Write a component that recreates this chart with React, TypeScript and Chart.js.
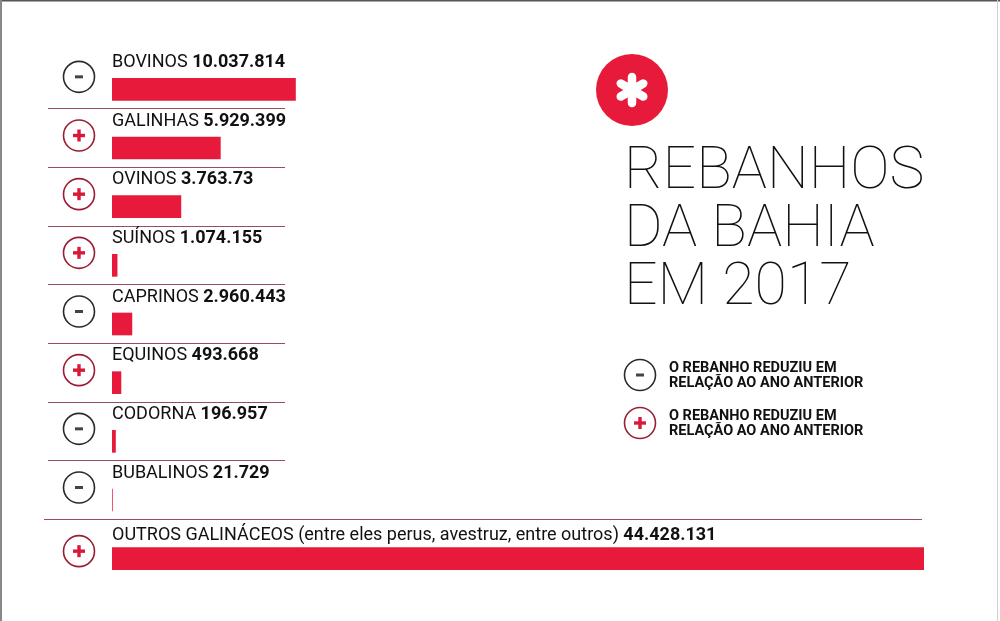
import { useEffect, useRef } from "react";
import { Chart, registerables } from "chart.js";

Chart.register(...registerables);

// ---- data ----
const categories = [
  "BOVINOS",
  "GALINHAS",
  "OVINOS",
  "SUÍNOS",
  "CAPRINOS",
  "EQUINOS",
  "CODORNA",
  "BUBALINOS",
  "OUTROS GALINÁCEOS (entre eles perus, avestruz, entre outros)",
];
const valueLabels = [
  "10.037.814",
  "5.929.399",
  "3.763.73",
  "1.074.155",
  "2.960.443",
  "493.668",
  "196.957",
  "21.729",
  "44.428.131",
];
// bar lengths as drawn in the picture (millions of heads)
const barValues = [10.04, 5.93, 3.77, 0.28, 1.09, 0.49, 0.19, 0.022, 44.43];
const trend = ["-", "+", "+", "+", "-", "+", "-", "-", "+"];
const titleLines = ["REBANHOS", "DA BAHIA", "EM 2017"];
const legendItems = [
  { kind: "-", lines: ["O REBANHO REDUZIU EM", "RELAÇÃO AO ANO ANTERIOR"] },
  { kind: "+", lines: ["O REBANHO REDUZIU EM", "RELAÇÃO AO ANO ANTERIOR"] },
];

const RED = "#e81a3b";
const DARKRED = "#9b1d34";
const SEP = "#9a4d5a";

function drawIcon(ctx: CanvasRenderingContext2D, x: number, y: number, kind: string) {
  ctx.save();
  ctx.beginPath();
  ctx.arc(x, y, 15.5, 0, Math.PI * 2);
  ctx.lineWidth = 1.6;
  ctx.strokeStyle = kind === "+" ? DARKRED : "#2a2a2a";
  ctx.stroke();
  if (kind === "+") {
    ctx.fillStyle = "#d8193a";
    ctx.fillRect(x - 6, y - 1.7, 12, 3.4);
    ctx.fillRect(x - 1.7, y - 6, 3.4, 12);
  } else {
    ctx.fillStyle = "#444";
    ctx.fillRect(x - 4, y - 1.5, 8, 3);
  }
  ctx.restore();
}

const infoPlugin = {
  id: "infoPlugin",
  beforeDraw(chart: any) {
    const ctx = chart.ctx as CanvasRenderingContext2D;
    ctx.save();
    ctx.fillStyle = "#ffffff";
    ctx.fillRect(0, 0, chart.width, chart.height);
    // frame
    ctx.fillStyle = "#555";
    ctx.fillRect(0, 0, chart.width, 1.5);
    ctx.fillStyle = "#888";
    ctx.fillRect(0, 0, 2, chart.height);
    ctx.fillStyle = "#d0d0d0";
    ctx.fillRect(chart.width - 3, 0, 1, chart.height);
    ctx.restore();
  },
  afterDatasetsDraw(chart: any) {
    const ctx = chart.ctx as CanvasRenderingContext2D;
    const yScale = chart.scales.y;
    const xLeft = chart.chartArea.left;
    const last = categories.length - 1;
    ctx.save();
    categories.forEach((name, i) => {
      const yc = yScale.getPixelForValue(i);
      const isLast = i === last;
      // label
      const ly = yc - (isLast ? 23 : 27);
      ctx.textBaseline = "middle";
      ctx.textAlign = "left";
      ctx.fillStyle = "#111";
      ctx.font = "18px Roboto";
      const txt = name + " ";
      ctx.fillText(txt, xLeft, ly);
      const w = ctx.measureText(txt).width;
      ctx.font = "bold 18px Roboto";
      ctx.fillText(valueLabels[i], xLeft + w, ly);
      // icon
      drawIcon(ctx, 79, yc - (isLast ? 7.5 : 12.5), trend[i]);
      // separator
      if (!isLast) {
        const sy = Math.round(yc + 19) + 0.5;
        ctx.beginPath();
        ctx.strokeStyle = SEP;
        ctx.lineWidth = 1;
        if (i === last - 1) {
          ctx.moveTo(44, sy);
          ctx.lineTo(922, sy);
        } else {
          ctx.moveTo(48, sy);
          ctx.lineTo(285, sy);
        }
        ctx.stroke();
      }
    });

    // red badge with asterisk
    const bx = 632, by = 90;
    ctx.beginPath();
    ctx.arc(bx, by, 36, 0, Math.PI * 2);
    ctx.fillStyle = RED;
    ctx.fill();
    ctx.strokeStyle = "#ffffff";
    ctx.lineWidth = 8.5;
    ctx.lineCap = "round";
    [90, 30, 150].forEach((deg) => {
      const a = (deg * Math.PI) / 180;
      ctx.beginPath();
      ctx.moveTo(bx - Math.cos(a) * 13, by - Math.sin(a) * 13);
      ctx.lineTo(bx + Math.cos(a) * 13, by + Math.sin(a) * 13);
      ctx.stroke();
    });

    // title
    ctx.fillStyle = "#111";
    ctx.textBaseline = "alphabetic";
    ctx.textAlign = "left";
    ctx.font = "100 59px Roboto";
    titleLines.forEach((t, k) => {
      ctx.fillText(t, 624, 188 + k * 58);
    });

    // legend
    legendItems.forEach((item, k) => {
      const iy = 375 + k * 48;
      drawIcon(ctx, 640, iy, item.kind);
      ctx.fillStyle = "#111";
      ctx.font = "bold 14.5px Roboto";
      ctx.textBaseline = "middle";
      item.lines.forEach((ln, j) => {
        ctx.fillText(ln, 669, iy - 7 + j * 15);
      });
    });
    ctx.restore();
  },
};

export default function App() {
  const ref = useRef<HTMLCanvasElement | null>(null);
  useEffect(() => {
    if (!ref.current) return;
    const chart = new Chart(ref.current, {
      type: "bar",
      data: {
        labels: categories,
        datasets: [
          {
            data: barValues,
            backgroundColor: RED,
            borderWidth: 0,
            barThickness: 22,
          },
        ],
      },
      options: {
        indexAxis: "y",
        responsive: false,
        animation: false,
        devicePixelRatio: 1,
        layout: { padding: { left: 112, right: 76, top: 60, bottom: 33 } },
        plugins: {
          legend: { display: false },
          tooltip: { enabled: false },
          title: { display: false },
        },
        scales: {
          x: { display: false, min: 0, max: 44.43 },
          y: { display: false },
        },
      },
      plugins: [infoPlugin],
    });
    return () => chart.destroy();
  }, []);
  return (
    <div style={{ position: "absolute", left: 0, top: 0, width: 1000, height: 621 }}>
      <canvas ref={ref} width={1000} height={621} style={{ display: "block" }} />
    </div>
  );
}
